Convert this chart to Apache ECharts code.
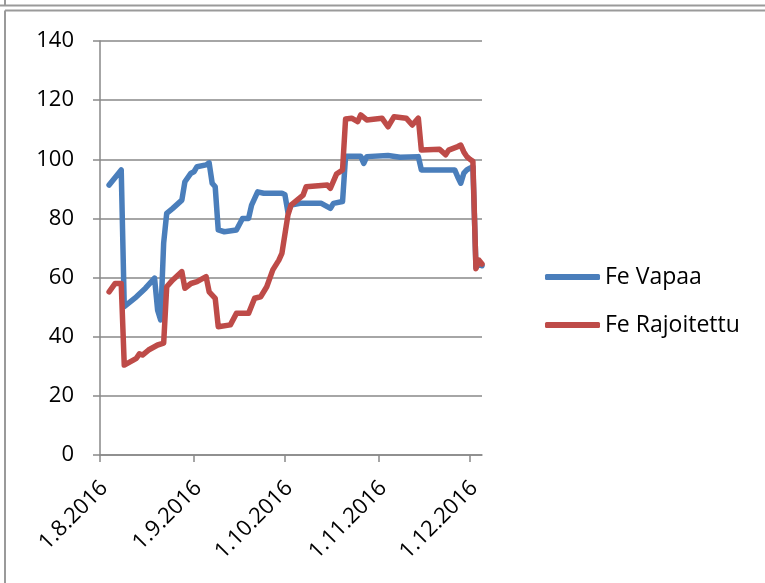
<!DOCTYPE html>
<html>
<head>
<meta charset="utf-8">
<script src="https://cdn.jsdelivr.net/npm/echarts@6/dist/echarts.min.js"></script>
<style>
  html, body { margin: 0; padding: 0; background: #fff; }
  #chart { width: 765px; height: 583px; }
</style>
</head>
<body>
<div id="chart"></div>
<script>
// Fe Vapaa – daily readings (vertices of the line)
const vapaaDates = [
  '2016-08-04','2016-08-08','2016-08-09','2016-08-13','2016-08-16','2016-08-19','2016-08-20','2016-08-21',
  '2016-08-22','2016-08-23','2016-08-25','2016-08-28','2016-08-29','2016-08-31','2016-09-01','2016-09-02',
  '2016-09-05','2016-09-06','2016-09-07','2016-09-08','2016-09-09','2016-09-11','2016-09-15','2016-09-17',
  '2016-09-19','2016-09-20','2016-09-22','2016-09-24','2016-09-30','2016-10-01','2016-10-02','2016-10-03',
  '2016-10-06','2016-10-13','2016-10-16','2016-10-17','2016-10-20','2016-10-21','2016-10-26','2016-10-27',
  '2016-10-28','2016-11-04','2016-11-08','2016-11-14','2016-11-15','2016-11-20','2016-11-26','2016-11-27',
  '2016-11-28','2016-11-29','2016-11-30','2016-12-01','2016-12-02','2016-12-03','2016-12-04','2016-12-05'
];
const vapaaValues = [
  91.3, 96.4, 50.2, 53.5, 56.4, 59.8, 49.0, 45.7,
  71.7, 81.7, 83.4, 86.2, 92.4, 95.3, 95.8, 97.5,
  98.1, 98.8, 91.9, 90.7, 76.1, 75.5, 76.1, 80.0,
  80.0, 84.5, 89.0, 88.5, 88.5, 88.0, 82.0, 84.5,
  85.1, 85.1, 83.4, 85.1, 85.7, 101.0, 101.0, 98.6,
  100.9, 101.3, 100.7, 100.9, 96.4, 96.4, 96.4, 94.0,
  91.9, 95.3, 96.4, 97.0, 97.5, 63.5, 64.5, 64.0
];

// Fe Rajoitettu – daily readings (vertices of the line)
const rajoitettuDates = [
  '2016-08-04','2016-08-06','2016-08-08','2016-08-09','2016-08-13','2016-08-14','2016-08-15','2016-08-17',
  '2016-08-20','2016-08-22','2016-08-23','2016-08-25','2016-08-28','2016-08-29','2016-08-31','2016-09-02',
  '2016-09-05','2016-09-06','2016-09-08','2016-09-09','2016-09-13','2016-09-15','2016-09-19','2016-09-21',
  '2016-09-23','2016-09-25','2016-09-27','2016-09-29','2016-09-30','2016-10-02','2016-10-03','2016-10-05',
  '2016-10-07','2016-10-08','2016-10-15','2016-10-16','2016-10-18','2016-10-20','2016-10-21','2016-10-23',
  '2016-10-25','2016-10-26','2016-10-28','2016-11-02','2016-11-04','2016-11-06','2016-11-10','2016-11-12',
  '2016-11-14','2016-11-15','2016-11-21','2016-11-23','2016-11-24','2016-11-27','2016-11-28','2016-11-29',
  '2016-11-30','2016-12-01','2016-12-02','2016-12-03','2016-12-04','2016-12-05'
];
const rajoitettuValues = [
  55.2, 58.0, 58.0, 30.4, 32.7, 34.2, 33.8, 35.5,
  37.2, 37.8, 56.9, 59.2, 62.0, 56.4, 58.0, 58.6,
  60.3, 55.2, 53.0, 43.4, 44.0, 47.9, 47.9, 53.0,
  53.5, 56.9, 62.6, 65.9, 68.2, 81.2, 84.5, 86.2,
  87.9, 90.7, 91.3, 90.2, 95.0, 96.4, 113.6, 113.9,
  112.7, 115.0, 113.3, 113.9, 111.0, 114.4, 113.9, 111.6,
  113.9, 103.1, 103.4, 101.5, 103.1, 104.3, 104.8, 102.5,
  100.9, 100.0, 99.3, 63.0, 65.9, 64.6
];

// Month ticks on the date axis
const tickDates = ['2016-08-01', '2016-09-01', '2016-10-01', '2016-11-01', '2016-12-01'];
const axisStart = '2016-08-01';
const axisEnd = '2016-12-05';

// Value axis ticks
const yMin = 0, yMax = 140, yStep = 20;

const toTime = s => new Date(s + 'T00:00:00').getTime();
const pair = (dates, values) => dates.map((d, i) => [toTime(d), values[i]]);

const FONT = '"Open Sans", "Noto Sans", sans-serif';
const GRID_GRAY = '#898989';

const chart = echarts.init(document.getElementById('chart'), null, { renderer: 'canvas' });

chart.setOption({
  backgroundColor: '#ffffff',
  animation: false,
  textStyle: { fontFamily: FONT, color: '#000' },
  grid: { left: 100, right: 283, top: 41, bottom: 128, containLabel: false },
  xAxis: {
    type: 'value',
    min: toTime(axisStart),
    max: toTime(axisEnd),
    axisLine: { show: true, onZero: false, lineStyle: { color: GRID_GRAY, width: 1.5 } },
    axisTick: {
      show: true, inside: false, length: 7,
      customValues: tickDates.map(toTime),
      lineStyle: { color: GRID_GRAY, width: 1.5 }
    },
    axisLabel: {
      customValues: tickDates.map(toTime),
      rotate: 45,
      margin: 10,
      verticalAlign: 'top',
      padding: [6, 11, 0, 0],
      fontSize: 22,
      fontFamily: FONT,
      color: '#000',
      formatter: v => {
        const d = new Date(v);
        return d.getDate() + '.' + (d.getMonth() + 1) + '.' + d.getFullYear();
      }
    },
    splitLine: { show: false }
  },
  yAxis: {
    type: 'value',
    min: yMin, max: yMax, interval: yStep,
    axisLine: { show: true, lineStyle: { color: GRID_GRAY, width: 1.5 } },
    axisTick: { show: true, inside: false, length: 7, lineStyle: { color: GRID_GRAY, width: 1.5 } },
    axisLabel: { margin: 26, fontSize: 22, fontFamily: FONT, color: '#000' },
    splitLine: { show: true, lineStyle: { color: GRID_GRAY, width: 1.5 } }
  },
  legend: {
    orient: 'vertical',
    left: 545,
    top: 264,
    padding: 0,
    icon: 'roundRect',
    itemWidth: 55,
    itemHeight: 6,
    itemGap: 22,
    textStyle: { fontSize: 23, fontFamily: FONT, color: '#000', lineHeight: 26 },
    data: ['Fe Vapaa', 'Fe Rajoitettu']
  },
  series: [
    {
      name: 'Fe Vapaa',
      type: 'line',
      data: pair(vapaaDates, vapaaValues),
      showSymbol: false,
      symbol: 'none',
      color: '#4A7EBB',
      lineStyle: { width: 5.5, color: '#4A7EBB', cap: 'round', join: 'round' }
    },
    {
      name: 'Fe Rajoitettu',
      type: 'line',
      data: pair(rajoitettuDates, rajoitettuValues),
      showSymbol: false,
      symbol: 'none',
      color: '#BE4B48',
      lineStyle: { width: 5.5, color: '#BE4B48', cap: 'round', join: 'round' }
    }
  ],
  graphic: [
    // lower edge of the frame above
    { type: 'line', silent: true, shape: { x1: 0, y1: 5.5, x2: 765, y2: 5.5 }, style: { stroke: '#9a9a9a', lineWidth: 2 } },
    { type: 'line', silent: true, shape: { x1: 5, y1: 0, x2: 5, y2: 5.5 }, style: { stroke: '#9a9a9a', lineWidth: 2 } },
    // chart frame
    { type: 'line', silent: true, shape: { x1: 5, y1: 10.5, x2: 765, y2: 10.5 }, style: { stroke: '#9a9a9a', lineWidth: 2 } },
    { type: 'line', silent: true, shape: { x1: 5, y1: 10.5, x2: 5, y2: 583 }, style: { stroke: '#9a9a9a', lineWidth: 2 } }
  ]
});
</script>
</body>
</html>
